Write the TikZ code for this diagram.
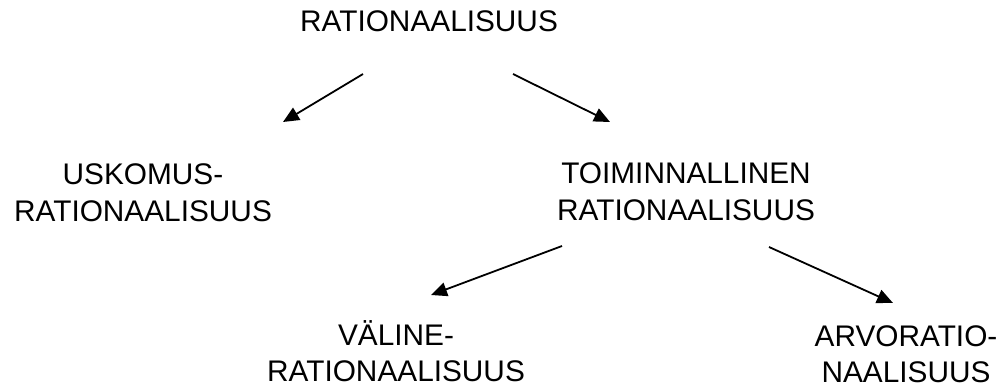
\documentclass[tikz,border=0pt]{standalone}
\usepackage{fontspec}
\setmainfont{Liberation Sans}
\usetikzlibrary{arrows.meta}
\begin{document}
\begin{tikzpicture}[x=1pt,y=-1pt,
  label/.style={inner sep=0pt, align=center, anchor=base,
    font=\fontsize{29.8pt}{36pt}\selectfont},
  arr/.style={line width=1.8pt, -{Triangle[length=16pt,width=14pt]}}]
\useasboundingbox (0,0) rectangle (1003,390);
\node[label] (top) at (429,32) {RATIONAALISUUS};
\node[label] (usk) at (143,221) {USKOMUS-\\RATIONAALISUUS};
\node[label] (toi) at (686,220) {TOIMINNALLINEN\\RATIONAALISUUS};
\node[label] (val) at (396,381) {VÄLINE-\\RATIONAALISUUS};
\node[label] (arv) at (906,382) {ARVORATIO-\\NAALISUUS};
\coordinate (a1s) at (363,74);
\coordinate (a1e) at (283,122);
\coordinate (a2s) at (513,74);
\coordinate (a2e) at (610,122);
\coordinate (a3s) at (562,246);
\coordinate (a3e) at (431,295);
\coordinate (a4s) at (769,247);
\coordinate (a4e) at (893,303);
\draw[arr] (a1s) -- (a1e);
\draw[arr] (a2s) -- (a2e);
\draw[arr] (a3s) -- (a3e);
\draw[arr] (a4s) -- (a4e);
\end{tikzpicture}
\end{document}
